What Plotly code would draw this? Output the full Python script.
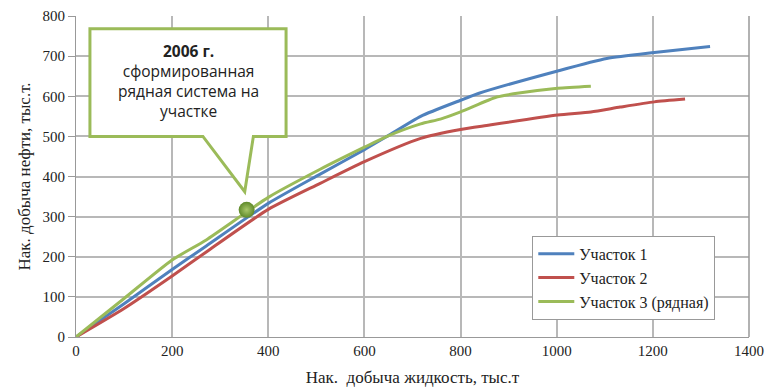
import plotly.graph_objects as go

# Участок 1
x1 = [0, 100, 200, 271, 400, 508, 600, 647, 717, 800, 840, 1002, 1104, 1203, 1319]
y1 = [0, 83, 168, 227, 333, 406, 467, 500, 550, 590, 608, 663, 694, 709, 724]
# Участок 2
x2 = [0, 100, 200, 271, 400, 508, 600, 717, 800, 854, 1002, 1071, 1132, 1203, 1267]
y2 = [0, 71, 152, 212, 318, 383, 437, 495, 517, 527, 553, 561, 573, 586, 593]
# Участок 3 (рядная)
x3 = [0, 100, 200, 271, 400, 508, 600, 647, 717, 758, 800, 875, 910, 1002, 1071]
y3 = [0, 96, 192, 242, 348, 418, 473, 500, 531, 543, 561, 598, 606, 620, 625]

# marker point (2006)
mark_x = [355]
mark_y = [317]

callout_lines = ["<b>2006 г.</b>", "сформированная", "рядная система на", "участке"]

names = ["Участок 1", "Участок 2", "Участок 3 (рядная)"]
colors = ["#4f81bd", "#c0504d", "#9bbb59"]

fig = go.Figure()
for xs, ys, n, c in zip([x1, x2, x3], [y1, y2, y3], names, colors):
    fig.add_trace(go.Scatter(x=xs, y=ys, mode="lines", name=n,
                             line=dict(color=c, width=3, shape="spline", smoothing=0.6)))

fig.add_trace(go.Scatter(x=mark_x, y=mark_y, mode="markers", showlegend=False,
                         marker=dict(size=16, color="#5f8a2a",
                                     gradient=dict(type="radial", color="#a9c86a"),
                                     line=dict(width=0))))

# callout box with pointer (data coords)
bx0, bx1, by0, by1 = 29, 437, 500, 768
p0, p1, tx, ty = 264, 369, 351, 362
path = (f"M {bx0} {by0} L {p0} {by0} L {tx} {ty} L {p1} {by0} L {bx1} {by0} "
        f"L {bx1} {by1} L {bx0} {by1} Z")
fig.add_shape(type="path", path=path, xref="x", yref="y",
              line=dict(color="#9bbb59", width=3), fillcolor="white", layer="above")

fig.add_annotation(x=(bx0 + bx1) / 2, y=(by0 + by1) / 2 + 4, xref="x", yref="y",
                   text="<br>".join(callout_lines), showarrow=False,
                   font=dict(family="Open Sans", size=15.5, color="#222"),
                   align="center")

fig.update_layout(
    width=767, height=387,
    margin=dict(l=76, r=18, t=16, b=50),
    plot_bgcolor="white", paper_bgcolor="white",
    font=dict(family="Liberation Serif", size=15, color="#222"),
    legend=dict(x=0.678, y=0.315, xanchor="left", yanchor="top",
                bordercolor="#999", borderwidth=1, bgcolor="white",
                font=dict(family="Liberation Serif", size=16),
                tracegroupgap=2, itemwidth=36),
    xaxis=dict(range=[0, 1400], dtick=200, showgrid=True, gridcolor="#b8b8b8", gridwidth=1.5,
               showline=True, linecolor="#999", mirror=False, zeroline=False, automargin=False,
               ticks="", tickfont=dict(size=15),
               title=dict(text="Нак.  добыча жидкость, тыс.т", font=dict(size=17), standoff=14)),
    yaxis=dict(range=[0, 800], dtick=100, showgrid=True, gridcolor="#b8b8b8", gridwidth=1.5,
               showline=True, linecolor="#999", zeroline=False, automargin=False,
               ticks="outside", ticklen=7, tickcolor="#999", tickfont=dict(size=15),
               title=dict(text="Нак. добыча нефти, тыс.т.", font=dict(size=17), standoff=7)),
)
# right border line at 1400
fig.add_shape(type="line", x0=1, x1=1, y0=0, y1=1, xref="paper", yref="paper",
              line=dict(color="#999", width=1.5))

fig.write_html("out.html")
